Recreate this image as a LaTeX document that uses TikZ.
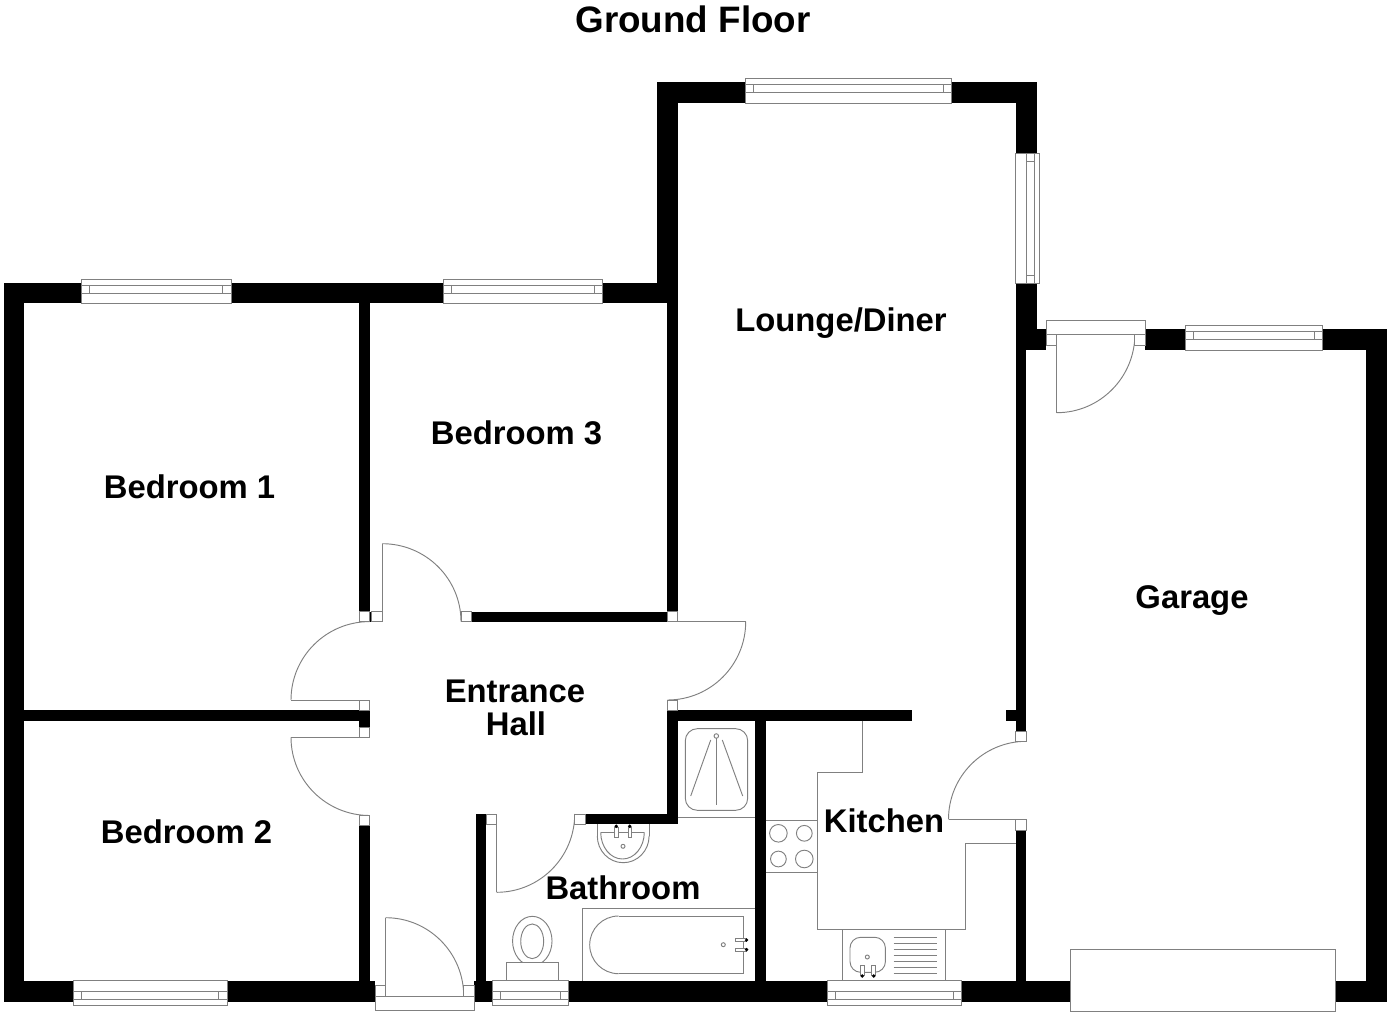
\documentclass[tikz,border=0pt]{standalone}
\usepackage{fontspec}
\setmainfont{Liberation Sans}
\definecolor{linegray}{gray}{0.5}
\newcommand\wal[4]{\fill[black] (#1,#2) rectangle (#3,#4);}
\newcommand\jamb[4]{\draw[fixture] (#1,#2) rectangle (#3,#4);}
\newcommand\seg[4]{\draw[fine] (#1,#2) -- (#3,#4);}
% quarter arc: centre, start offset, end offset
\newcommand\qarc[6]{\draw[fine] ({#1+#3},{#2+#4}) .. controls ({#1+#3+.5523*#5},{#2+#4+.5523*#6}) and ({#1+#5+.5523*#3},{#2+#6+.5523*#4}) .. ({#1+#5},{#2+#6});}
% windows in horizontal walls
\newcommand\wintop[3]{\draw[fixture] (#1,{#3-3.6}) rectangle (#2,{#3+21});
  \draw[fine] (#1,{#3+2.3}) -- (#2,{#3+2.3}) (#1,{#3+10.3}) -- (#2,{#3+10.3})
  ({#1+8.2},{#3+2.3}) -- ({#1+8.2},{#3+10.3}) ({#2-8.2},{#3+2.3}) -- ({#2-8.2},{#3+10.3});}
\newcommand\winbot[3]{\draw[fixture] (#1,{#3-20.8}) rectangle (#2,{#3+3.6});
  \draw[fine] (#1,{#3-2}) -- (#2,{#3-2}) (#1,{#3-10}) -- (#2,{#3-10})
  ({#1+8.2},{#3-2}) -- ({#1+8.2},{#3-10}) ({#2-8.2},{#3-2}) -- ({#2-8.2},{#3-10});}
\tikzset{
  fine/.style={draw=linegray,line width=0.7pt},
  fixture/.style={draw=linegray,line width=0.7pt,fill=white},
  dotblack/.style={fill=black},
  roomlabel/.style={font=\bfseries\fontsize{24.6}{28}\selectfont,text=black,anchor=base,inner sep=0pt},
  titlelabel/.style={font=\bfseries\fontsize{27.6}{32}\selectfont,text=black,anchor=base,inner sep=0pt}
}
\begin{document}
\begin{tikzpicture}[x=0.75pt,y=-0.75pt]
\useasboundingbox (0,0) rectangle (1392,1016);
\fill[white] (0,0) rectangle (1392,1016);
% --- outer and inner walls
\wal{3.5}{282.7}{678}{303.3}
\wal{3.5}{282.7}{24.4}{1001.5}
\wal{3.5}{980.7}{375.3}{1001.5}
\wal{474.3}{980.7}{1070.5}{1001.5}
\wal{1335}{980.7}{1386.7}{1001.5}
\wal{656.7}{82.3}{677.7}{303.3}
\wal{656.7}{82.3}{1036.5}{103}
\wal{1015.7}{82.3}{1036.5}{350}
\wal{1015.7}{329}{1046.3}{349.7}
\wal{1145}{329}{1386.7}{349.7}
\wal{1365.7}{329}{1386.7}{1001.5}
\wal{1015.7}{340}{1026.3}{731.7}
\wal{1006.4}{710.3}{1026.3}{721}
\wal{1015.7}{830}{1026.3}{985}
% partitions
\wal{359.3}{303}{369.7}{612}
\wal{369.7}{611.7}{371.7}{621.7}
\wal{471.3}{611.7}{667.5}{622}
\wal{667.3}{303}{677.7}{612}
\wal{24}{710.3}{369.7}{720.7}
\wal{359.3}{710.3}{369.7}{727.3}
\wal{359.3}{825.7}{369.7}{985}
\wal{667.3}{710.3}{911.7}{720.7}
\wal{667.3}{710.3}{677.7}{824.3}
\wal{585}{814}{677.7}{824.3}
\wal{475.7}{814}{486.3}{985}
\wal{755.3}{720}{765.7}{985}
% --- door swings
\qarc{382.3}{621.7}{0}{-78}{78.7}{0}
\seg{382.3}{621.7}{382.3}{543.7}
\qarc{369.7}{700}{-78.7}{0}{0}{-78.4}
\seg{291}{700}{369.7}{700}
\qarc{369.7}{737.3}{-78.7}{0}{0}{78.2}
\seg{291}{737.3}{369.7}{737.3}
\qarc{667.5}{621.7}{78.2}{0}{0}{78.3}
\seg{677.7}{621.7}{745.7}{621.7}
\qarc{496.7}{814}{0}{78.3}{78}{0}
\seg{496.7}{814}{496.7}{892.3}
\qarc{385.7}{996}{0}{-78.3}{78}{0}
\seg{385.7}{996}{385.7}{917.7}
\qarc{1056.7}{334}{0}{78.7}{78.2}{0}
\seg{1056.7}{334}{1056.7}{412.7}
\qarc{1026.5}{819.3}{-78}{0}{0}{-78}
\seg{948.5}{819.3}{1026.3}{819.3}
% --- door jambs
\jamb{359.3}{611.7}{369.7}{621.7}
\jamb{371.7}{611.7}{382.3}{621.7}
\jamb{461}{611.7}{471.3}{621.7}
\jamb{667.3}{611.7}{677.7}{621.7}
\jamb{359.3}{700}{369.7}{710.3}
\jamb{359.3}{727.3}{369.7}{737.3}
\jamb{359.3}{815.3}{369.7}{825.7}
\jamb{667.3}{700}{677.7}{710.3}
\jamb{574.7}{814}{585}{824.3}
\jamb{486.3}{814}{496.7}{824.3}
\jamb{1015.7}{731.7}{1026.3}{741.3}
\jamb{1015.7}{819.3}{1026.3}{830}
% entrance door
\jamb{375.3}{985.3}{385.7}{996}
\jamb{463.5}{985.3}{474.3}{996}
\jamb{375.3}{996}{474.3}{1010}
% garage side door
\jamb{1046.3}{334}{1056.7}{345}
\jamb{1134.7}{334}{1145.3}{345}
\jamb{1046.3}{320.3}{1145.3}{334}
% --- windows
\wintop{745.3}{951.3}{82.3}
\wintop{81.7}{231}{282.7}
\wintop{443}{602.7}{282.7}
\wintop{1185.3}{1322.7}{329}
\winbot{73}{227}{1001.5}
\winbot{492.3}{568.3}{1001.5}
\winbot{827}{961.5}{1001.5}
% side window of lounge
\draw[fixture] (1015.7,153.3) rectangle (1039.3,283.3);
\draw[fine] (1026,153.3) -- (1026,283.3) (1034.7,153.3) -- (1034.7,283.3)
  (1026,161.7) -- (1034.7,161.7) (1026,275.3) -- (1034.7,275.3);
% garage door
\jamb{1070.5}{949.7}{1335}{1011.7}
% --- shower
\seg{677.7}{817.5}{755.3}{817.5}
\draw[fine,rounded corners=9pt] (685.3,728.7) rectangle (747.7,810.3);
\draw[fine] (716.3,736) circle[radius=1.7pt];
\seg{716.3}{738.3}{716.3}{805}
\seg{710.7}{740}{690.7}{796}
\seg{722.3}{740}{742.7}{796}
% --- basin
\qarc{623.2}{836}{-25.9}{0}{0}{26.7}
\qarc{623.2}{836}{25.9}{0}{0}{26.7}
\seg{597.3}{824.3}{597.3}{836}
\seg{649.1}{824.3}{649.1}{836}
\seg{600.7}{832.3}{644.3}{832.3}
\qarc{622.5}{832.3}{-21.8}{0}{0}{26.7}
\qarc{622.5}{832.3}{21.8}{0}{0}{26.7}
\draw[fixture] (614.7,827.7) rectangle (618,837.3);
\draw[fixture] (628,827.7) rectangle (631.3,837.3);
\fill[dotblack] (616.3,826.3) circle[radius=1.4pt] (629.7,826.3) circle[radius=1.4pt];
\draw[fine] (623,846.3) circle[radius=1.5pt];
% --- toilet
\draw[fixture] (532.3,941) ellipse[x radius=14.8pt,y radius=18.5pt];
\draw[fine] (532.2,941.3) ellipse[x radius=8.6pt,y radius=13pt];
\draw[fixture] (506.3,962) rectangle (558,980.7);
% --- bath
\draw[fine] (582.3,980.7) -- (582.3,908.7) -- (755.3,908.7);
\seg{618.6}{916}{743.7}{916}
\seg{743.7}{916}{743.7}{973.7}
\seg{743.7}{973.7}{618.6}{973.7}
\qarc{618.6}{944.85}{0}{-28.85}{-28.9}{0}
\qarc{618.6}{944.85}{0}{28.85}{-28.9}{0}
\draw[fine] (723.3,944.7) circle[radius=1.5pt];
\draw[fixture] (735.7,938.3) rectangle (746,941.7);
\draw[fixture] (735.7,948) rectangle (746,951.3);
\fill[dotblack] (746.6,940) circle[radius=1.4pt] (746.6,949.7) circle[radius=1.4pt];
% --- kitchen units
\draw[fine] (862,720.7) -- (862,772) -- (817,772) -- (817,929.3) -- (965.6,929.3) -- (965.6,843.3) -- (1015.7,843.3);
\draw[fine] (765.7,820) -- (817,820) (765.7,872) -- (817,872);
\draw[fine] (778.4,833.3) circle[radius=6.6pt];
\draw[fine] (804.3,833.3) circle[radius=5.9pt];
\draw[fine] (778.4,859) circle[radius=5.9pt];
\draw[fine] (804.3,859) circle[radius=6.6pt];
\draw[fine] (842,929.3) -- (842,980.7) (945.5,929.3) -- (945.5,980.7);
\draw[fine,rounded corners=8pt] (850,937.3) rectangle (885.4,972.3);
\draw[fine] (867.3,957) circle[radius=1.5pt];
\draw[fixture] (860.3,965.3) rectangle (864,975);
\draw[fixture] (871.8,965.3) rectangle (875.5,975);
\fill[dotblack] (862.2,976) circle[radius=1.4pt] (873.7,976) circle[radius=1.4pt];
\foreach \yy in {937.7,943.7,949.7,955.7,961.7,967.5,973.3}{\draw[fine] (893.6,\yy) -- (936.8,\yy);}
% --- labels
\node[titlelabel] (title) at (693,32.8) {Ground Floor};
\node[roomlabel] (lounge) at (841,331.5) {Lounge/Diner};
\node[roomlabel] (bed3) at (516.5,444.5) {Bedroom 3};
\node[roomlabel] (bed1) at (189.5,498.5) {Bedroom 1};
\node[roomlabel] (hall1) at (515,702.5) {Entrance};
\node[roomlabel] (hall2) at (516,735.5) {Hall};
\node[roomlabel] (garage) at (1192,608) {Garage};
\node[roomlabel] (bed2) at (186.5,843.5) {Bedroom 2};
\node[roomlabel] (kitchen) at (884,832.5) {Kitchen};
\node[roomlabel] (bath) at (623,899.5) {Bathroom};
\end{tikzpicture}
\end{document}
